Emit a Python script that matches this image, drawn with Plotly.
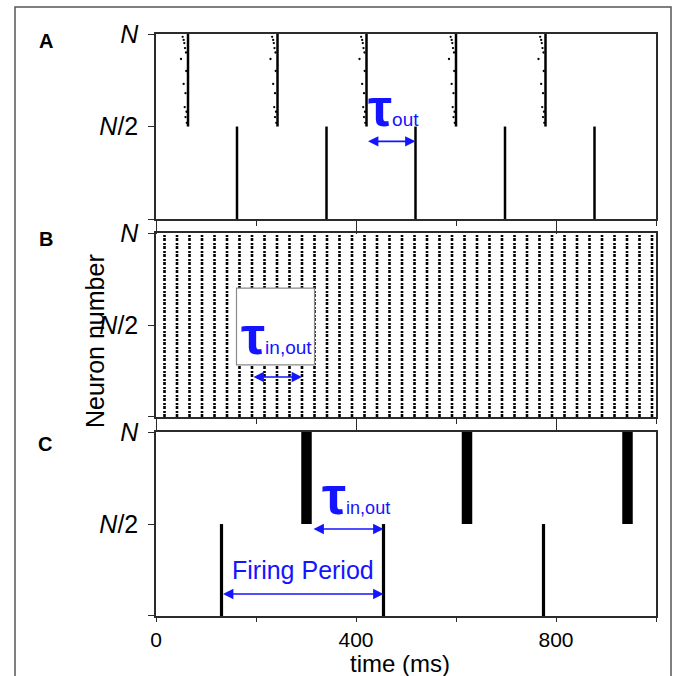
import plotly.graph_objects as go

# Network size (y axis runs from neuron 0 to neuron N)
N = 1000
HALF = N // 2

# Panel A: burst times (ms) of the two populations
A_UPPER_T = [64, 243, 421, 600, 779]      # neurons N/2..N
A_LOWER_T = [162, 341, 519, 698, 877]     # neurons 0..N/2
# early spikes that lead each upper burst: time offset (ms) and neuron index
A_LEAD_DT = [-10.7, -8.7, -7.4, -6.0, -4.0, -14.0, -3.5, -8.7, -5.0, -6.6, -3.0, -5.0, -2.5]
A_LEAD_N = [985, 968, 951, 924, 900, 865, 800, 730, 680, 605, 580, 551, 520]

# Panel B: firing times (ms) of the synchronous volleys
B_T = [17, 42, 67, 92, 117, 142, 167, 192, 217, 242,
       267, 292, 317, 342, 367, 392, 417, 442, 467, 492,
       517, 542, 567, 592, 617, 642, 667, 692, 717, 742,
       767, 792, 817, 842, 867, 892, 917, 942, 967, 992]

# Panel C: burst times (ms)
C_UPPER_T = [301, 622, 943]   # broad bursts, neurons N/2..N
C_UPPER_HALFWIDTH = 11        # ms
C_LOWER_T = [131, 455, 775]   # neurons 0..N/2

X_MAJOR = [0, 400, 800]
X_MINOR = [200, 600, 1000]
Y_TICKS = [0, HALF, N]
Y_TICKTEXT = ["", "<i>N</i>/2", "<i>N</i>"]

FONT = "Liberation Sans, Arial, Helvetica, sans-serif"
BLUE = "#1414ff"
AXC = "#2b2b2b"


def segments(times, y0, y1):
    xs, ys = [], []
    for t in times:
        xs += [t, t, None]
        ys += [y0, y1, None]
    return xs, ys


fig = go.Figure()

# ---- Panel A ----
x, y = segments(A_LOWER_T, 0, HALF)
fig.add_trace(go.Scatter(x=x, y=y, mode="lines", line=dict(color="black", width=2.5),
                         xaxis="x", yaxis="y", hoverinfo="skip"))
x, y = segments(A_UPPER_T, HALF, N)
fig.add_trace(go.Scatter(x=x, y=y, mode="lines", line=dict(color="black", width=2.5),
                         xaxis="x", yaxis="y", hoverinfo="skip"))
lx, ly = [], []
for t in A_UPPER_T:
    for dt, n in zip(A_LEAD_DT, A_LEAD_N):
        lx.append(t + dt)
        ly.append(n)
fig.add_trace(go.Scatter(x=lx, y=ly, mode="markers", marker=dict(color="black", size=2.3),
                         xaxis="x", yaxis="y", hoverinfo="skip"))

# ---- Panel B ----
x, y = segments(B_T, 0, N)
fig.add_trace(go.Scatter(x=x, y=y, mode="lines",
                         line=dict(color="black", width=2.6, dash="3px,1px,2px,2px"),
                         xaxis="x2", yaxis="y2", hoverinfo="skip"))

# ---- Panel C ----
x, y = segments(C_LOWER_T, 0, HALF)
fig.add_trace(go.Scatter(x=x, y=y, mode="lines", line=dict(color="black", width=3.2),
                         xaxis="x3", yaxis="y3", hoverinfo="skip"))
x, y = segments(C_UPPER_T, HALF, N)
fig.add_trace(go.Scatter(x=x, y=y, mode="lines", line=dict(color="black", width=10.5),
                         xaxis="x3", yaxis="y3", hoverinfo="skip"))


def xaxis_cfg(anchor, labels, ticklen, minorlen):
    return dict(
        anchor=anchor, domain=[0, 1], range=[0, 1000],
        showline=True, mirror=True, linecolor=AXC, linewidth=1.5,
        showgrid=False, zeroline=False,
        ticks="outside", ticklen=ticklen, tickwidth=1.3, tickcolor=AXC,
        tickvals=X_MAJOR, ticktext=[str(v) for v in X_MAJOR],
        showticklabels=labels,
        tickfont=dict(family=FONT, size=21, color="black"),
        minor=dict(tickvals=X_MINOR, ticks="outside", ticklen=minorlen, tickwidth=1.3, tickcolor=AXC),
    )


def yaxis_cfg(anchor, domain):
    return dict(
        anchor=anchor, domain=domain, range=[0, N],
        showline=True, mirror=True, linecolor=AXC, linewidth=1.5,
        showgrid=False, zeroline=False,
        ticks="outside", ticklen=6, tickwidth=1.3, tickcolor=AXC,
        tickvals=Y_TICKS, ticktext=Y_TICKTEXT,
        tickfont=dict(family=FONT, size=25, color="black"),
        ticklabelstandoff=5,
    )


def tau(sub, big, small):
    return (f"<span style='font-size:{big}px'><b>τ</b></span>"
            f"<span style='font-size:{small}px'>{sub}</span>")


def paper_text(text, px, py, size, **kw):
    # place a text by its centre, given in page pixels
    return dict(text=text, x=(px - 156) / 500, y=(616 - py) / 582, xref="paper", yref="paper",
                xanchor="center", yanchor="middle", showarrow=False,
                font=dict(family=FONT, size=size, color="black"), **kw)


def arrow(axis, x_from, x_to, yv):
    return dict(text="", x=x_to, y=yv, ax=x_from, ay=yv, xref=f"x{axis}", yref=f"y{axis}",
                axref=f"x{axis}", ayref=f"y{axis}", showarrow=True, arrowside="end+start",
                arrowhead=2, arrowsize=1.3, arrowwidth=1.6, arrowcolor=BLUE,
                standoff=0, startstandoff=0)


def label(axis, text, xv, yv):
    return dict(text=text, x=xv, y=yv, xref=f"x{axis}", yref=f"y{axis}",
                xanchor="center", yanchor="middle", showarrow=False,
                font=dict(family=FONT, size=19, color=BLUE))


annotations = [
    # panel letters
    paper_text("<b>A</b>", 46, 41, 20),
    paper_text("<b>B</b>", 46, 239, 20),
    paper_text("<b>C</b>", 45, 444, 20),
    # axis titles
    paper_text("Neuron number", 95, 341, 25, textangle=-90),
    paper_text("time (ms)", 400, 663, 24),
    # panel A: tau_out
    label("", tau("out", 54, 19), 475, 605),
    arrow("", A_UPPER_T[2], A_LOWER_T[2], 420),
    # panel B: tau_in,out inside a boxed label
    label("2", tau("in,out", 54, 19), 241, 445),
    arrow("2", B_T[7], B_T[11], 217),
    # panel C: tau_in,out and firing period
    label("3", tau("in,out", 54, 18), 399, 660),
    arrow("3", C_UPPER_T[0] + C_UPPER_HALFWIDTH, C_LOWER_T[1], 473),
    dict(label("3", "Firing Period", 293, 250), font=dict(family=FONT, size=25, color=BLUE)),
    arrow("3", C_LOWER_T[0], C_LOWER_T[1], 120),
]

shapes = [
    # white label box over the panel B raster
    dict(type="rect", xref="x2", yref="y2", x0=161, x1=317, y0=283, y1=701,
         fillcolor="white", line=dict(color="#8a8a8a", width=1.2), layer="above"),
    # figure frame
    dict(type="rect", xref="paper", yref="paper", x0=(15 - 156) / 500, x1=(671 - 156) / 500,
         y0=(616 - 700) / 582, y1=(616 - 7) / 582,
         line=dict(color="#555555", width=1.5), fillcolor="rgba(0,0,0,0)", layer="below"),
]

fig.update_layout(
    width=675, height=676,
    margin=dict(l=156, r=19, t=34, b=60),
    paper_bgcolor="white", plot_bgcolor="white",
    showlegend=False,
    font=dict(family=FONT, color="black"),
    xaxis=xaxis_cfg("y", False, 13, 5),
    xaxis2=xaxis_cfg("y2", False, 13, 5),
    xaxis3=xaxis_cfg("y3", True, 4, 4),
    yaxis=yaxis_cfg("x", [0.682, 1.0]),
    yaxis2=yaxis_cfg("x2", [0.342, 0.658]),
    yaxis3=yaxis_cfg("x3", [0.0, 0.316]),
    annotations=annotations,
    shapes=shapes,
)

fig.write_html("out.html")
